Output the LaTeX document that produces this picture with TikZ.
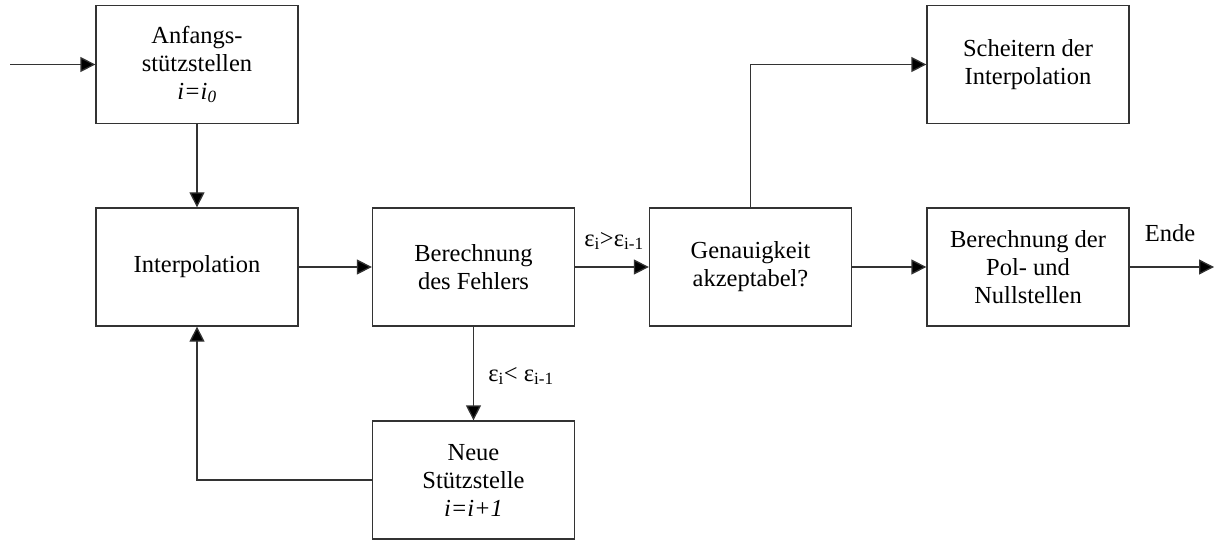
\documentclass[tikz,border=0pt]{standalone}
\usepackage{fontspec}
\setmainfont{Liberation Serif}
\usetikzlibrary{arrows.meta}
\begin{document}
\begin{tikzpicture}[x=1pt,y=-1pt,
  block/.style={draw=black!80, line width=1.3pt, minimum width=202pt, minimum height=118pt,
    align=center, inner sep=0pt, font=\fontsize{24.5}{28}\selectfont},
  flow/.style={draw=black!80, line width=1.3pt, -{Triangle[length=15pt,width=15pt,fill=black]}},
  lbl/.style={font=\fontsize{24.5}{28}\selectfont, inner sep=0pt}]
\useasboundingbox (0,0) rectangle (1217,540);

% process blocks
\node[block] (A) at (197,64.5) {Anfangs-\\stützstellen\\\textit{i=i\textsubscript{0}}};
\node[block] (I) at (197,267) {Interpolation};
\node[block] (B) at (473.5,267) {Berechnung\\des Fehlers};
\node[block] (G) at (750.5,267) {Genauigkeit\\akzeptabel?};
\node[block] (P) at (1028,267) {Berechnung der\\Pol- und\\Nullstellen};
\node[block] (S) at (1028,64.5) {Scheitern der\\Interpolation};
\node[block] (N) at (473.5,480) {Neue\\Stützstelle\\\textit{i=i+1}};

% free ends
\coordinate (in) at (10,64.5);
\coordinate (out) at (1214,267);
\coordinate (fb) at (197,480);
\coordinate (up) at (750.5,64.5);

% connectors
\draw[flow] (in) -- (A.west);
\draw[flow] (A.south) -- (I.north);
\draw[flow] (I.east) -- (B.west);
\draw[flow] (B.east) -- (G.west);
\draw[flow] (G.east) -- (P.west);
\draw[flow] (P.east) -- (out);
\draw[flow] (G.north) -- (up) -- (S.west);
\draw[flow] (B.south) -- (N.north);
\draw[flow] (N.west) -- (fb) -- (I.south);

% labels
\node[lbl, anchor=base] (lg) at (614,246) {ε\textsubscript{i}>ε\textsubscript{i-1}};
\node[lbl, anchor=base] (lk) at (521,381) {ε\textsubscript{i}< ε\textsubscript{i-1}};
\node[lbl, anchor=base] (le) at (1170,241) {Ende};
\end{tikzpicture}
\end{document}
